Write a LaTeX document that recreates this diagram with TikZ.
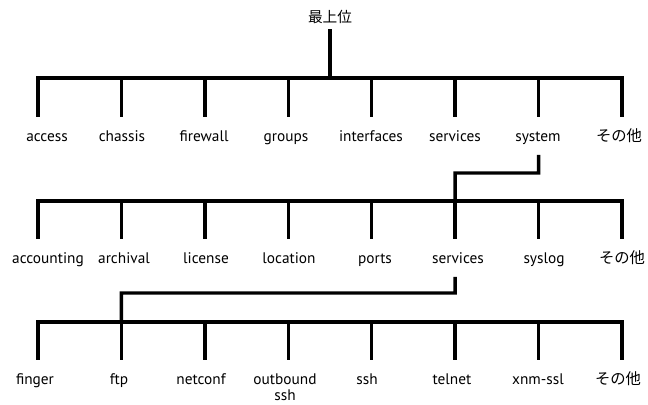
\documentclass[tikz,border=0pt]{standalone}
\usepackage{fontspec}
\setmainfont{PT Sans}
\newfontfamily\jfont{Noto Sans CJK JP}
\usetikzlibrary{positioning,calc}

\begin{document}
\begin{tikzpicture}[x=0.75pt,y=-0.75pt,
	tree/.style={line width=2.6pt, line cap=rect},
	leaf/.style={anchor=base, inner sep=0pt, text height=9pt, text depth=3pt, font=\fontsize{11.5}{12}\selectfont}]
	\useasboundingbox (0,0) rectangle (648,404);
	\node[leaf, font=\jfont\fontsize{11}{12}\selectfont] (top) at (330,22) {最上位};
	% level 1
	\foreach \t/\lx [count=\i from 0] in {access/47,chassis/122,firewall/204,groups/286,interfaces/371,services/455,system/538,{\jfont その他}/619} {
		\coordinate (b1-\i) at (38+83.43*\i,78);
		\node[leaf] (l1-\i) at (\lx,141) {\t};
	}
	% level 2
	\foreach \t/\lx [count=\i from 0] in {accounting/48,archival/124,license/206,location/289,ports/375,services/458,syslog/544,{\jfont その他}/622} {
		\coordinate (b2-\i) at (38+83.43*\i,201);
		\node[leaf] (l2-\i) at (\lx,263) {\t};
	}
	% level 3
	\foreach \t/\lx [count=\i from 0] in {finger/35,ftp/119,netconf/201,{\begin{tabular}[t]{@{}c@{}}outbound\\ssh\end{tabular}}/285,ssh/367,telnet/452,xnm-ssl/538,{\jfont その他}/618} {
		\coordinate (b3-\i) at (38+83.43*\i,322);
		\node[leaf] (l3-\i) at (\lx,384) {\t};
	}
	\coordinate (k1) at (455,173);
	\coordinate (k2) at (121.4,293);
	\foreach \r in {1,2,3} {
		\draw[tree] (b\r-0) -- (b\r-7);
		\foreach \i in {0,...,7} \draw[tree, shorten >=10pt] (b\r-\i) -- (b\r-\i |- l\r-\i.north);
	}
	\draw[tree, shorten <=3.5pt] (top.south) -- (top.south |- b1-0);
	\draw[tree, shorten <=8.5pt] (l1-6.south -| b1-6) |- (k1) -- (b2-5);
	\draw[tree, shorten <=8.5pt] (l2-5.south -| b2-5) |- (k2) -- (b3-1);
\end{tikzpicture}
\end{document}
